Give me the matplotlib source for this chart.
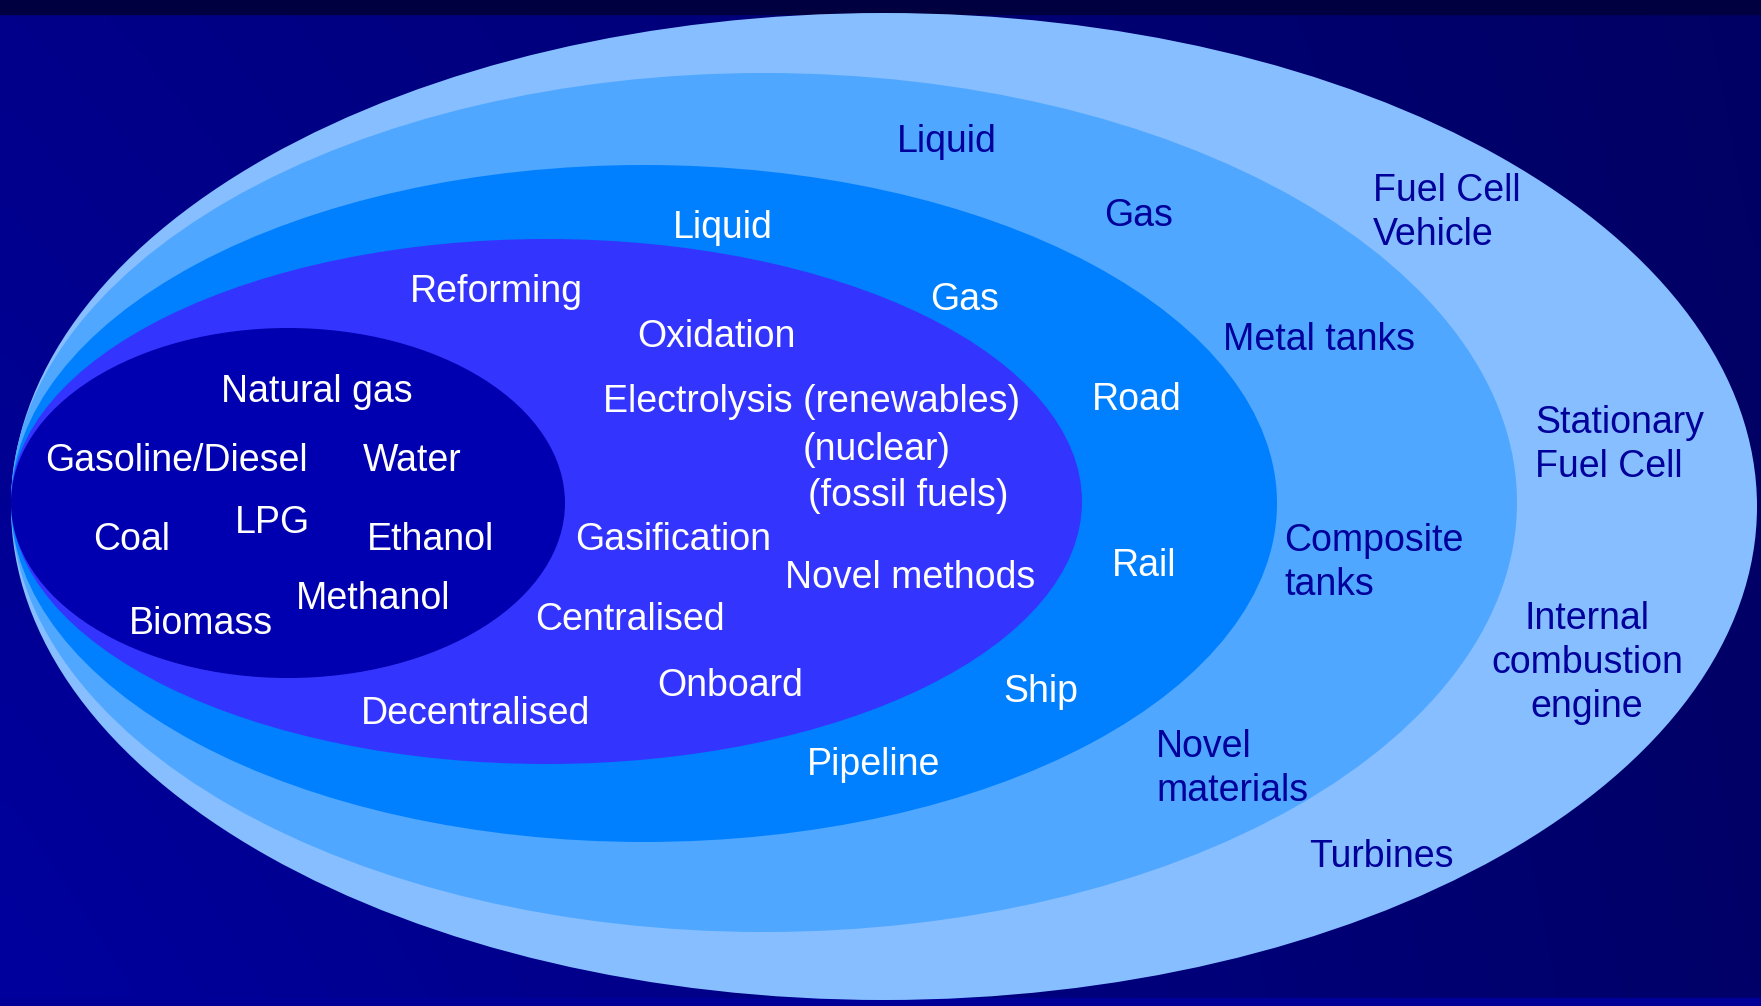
import numpy as np
import matplotlib.pyplot as plt
from matplotlib.patches import Ellipse, Rectangle

W, H = 1761, 1006

# nested layers, outermost first: left, right, top, bottom (pixels)
layer_left = [11, 11, 11, 11, 11]
layer_right = [1757, 1517, 1277, 1082, 565]
layer_top = [13, 73, 165, 239, 328]
layer_bottom = [1000, 932, 842, 764, 678]
layer_colors = ["#86BEFF", "#4FA7FF", "#0080FF", "#3434FF", "#0000B0"]

# labels: text, x (left edge), y (line centre)
outer_labels = [
    ("Fuel Cell\nVehicle", 1373, 210),
    ("Stationary\nFuel Cell", 1535, 442),
    ("Turbines", 1309, 854),
]
outer_center_labels = [
    ("Internal\ncombustion\nengine", 1587, 660),
]
storage_labels = [
    ("Liquid", 897, 139),
    ("Gas", 1104, 213),
    ("Metal tanks", 1223, 337),
    ("Composite\ntanks", 1284, 560),
    ("Novel\nmaterials", 1156, 766),
]
transport_labels = [
    ("Liquid", 673, 225),
    ("Gas", 930, 297),
    ("Road", 1092, 397),
    ("Rail", 1112, 563),
    ("Ship", 1003, 689),
    ("Pipeline", 807, 762),
]
production_labels = [
    ("Reforming", 410, 289),
    ("Oxidation", 637, 334),
    ("Electrolysis (renewables)", 603, 399),
    ("(nuclear)", 803, 447),
    ("(fossil fuels)", 808, 493),
    ("Gasification", 575, 537),
    ("Novel methods", 785, 575),
    ("Centralised", 535, 617),
    ("Onboard", 657, 683),
    ("Decentralised", 361, 711),
]
source_labels = [
    ("Natural gas", 221, 389),
    ("Gasoline/Diesel", 45, 458),
    ("Water", 363, 458),
    ("LPG", 235, 520),
    ("Coal", 93, 537),
    ("Ethanol", 367, 537),
    ("Methanol", 296, 596),
    ("Biomass", 129, 621),
]

plt.rcParams["font.family"] = ["Liberation Sans", "DejaVu Sans"]

fig = plt.figure(figsize=(W / 100, H / 100), dpi=100)
ax = fig.add_axes([0, 0, 1, 1])
ax.set_xlim(0, W)
ax.set_ylim(H, 0)
ax.set_axis_off()

# background: slightly darker towards the top right
yy, xx = np.mgrid[0:1:60j, 0:1:100j]
shade = 0x8A - 0x26 * xx + 0x14 * yy - 0x10 * xx * yy
bg = np.zeros((60, 100, 3))
bg[..., 2] = shade / 255
ax.imshow(bg, extent=[0, W, H, 0], aspect="auto", interpolation="bicubic", zorder=0)
ax.add_patch(Rectangle((0, 0), W, 14, color="#000040", zorder=1))
ax.add_patch(Rectangle((0, H - 8), W, 8, color="#000098", zorder=1))

for i, (l, r, t, b, c) in enumerate(
    zip(layer_left, layer_right, layer_top, layer_bottom, layer_colors)
):
    ax.add_patch(
        Ellipse(((l + r) / 2, (t + b) / 2), r - l, b - t, facecolor=c,
                edgecolor="none", zorder=2 + i)
    )

fs = 27
ls = 1.27
dy = 3  # va="center" sits a touch high compared with the slide text
dark = "#00009A"
for txt, x, y in outer_labels + storage_labels:
    ax.text(x, y + dy, txt, color=dark, fontsize=fs, ha="left", va="center",
            linespacing=ls, zorder=10)
for txt, x, y in outer_center_labels:
    ax.text(x, y + dy, txt, color=dark, fontsize=fs, ha="center", va="center",
            multialignment="center", linespacing=ls, zorder=10)
for txt, x, y in transport_labels + production_labels + source_labels:
    ax.text(x, y + dy, txt, color="white", fontsize=fs, ha="left", va="center",
            linespacing=ls, zorder=10)

fig.savefig("out.png", dpi=100)
